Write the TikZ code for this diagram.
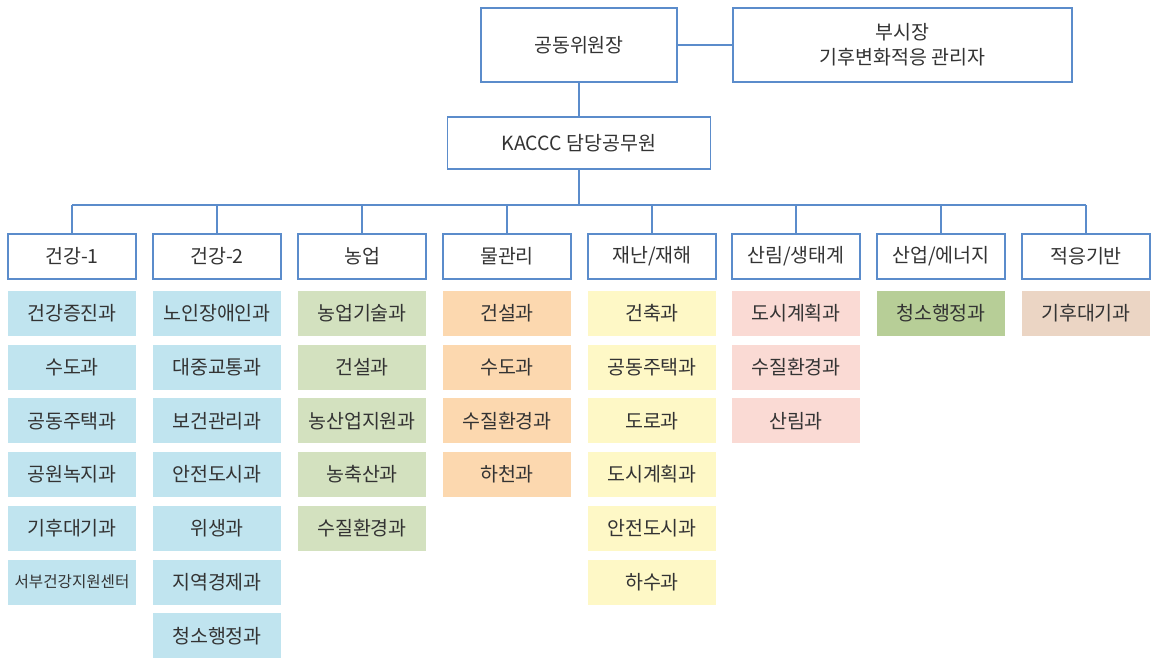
\documentclass[tikz,border=0pt]{standalone}
\usepackage{fontspec}
\setmainfont{Noto Sans CJK KR}
\definecolor{lineblue}{HTML}{5B8CCB}
\definecolor{txt}{HTML}{333333}
\definecolor{cblue}{HTML}{C0E4EF}
\definecolor{cgreen}{HTML}{D3E1BF}
\definecolor{corange}{HTML}{FCD8AF}
\definecolor{cyellow}{HTML}{FEF8C6}
\definecolor{cpink}{HTML}{FADAD4}
\definecolor{cdgreen}{HTML}{B7CE97}
\definecolor{ctan}{HTML}{EBD5C4}
\begin{document}
\begin{tikzpicture}[x=1pt,y=-1pt,
  conn/.style={draw=lineblue, line width=1.5pt},
  box/.style={draw=lineblue, line width=1.5pt, fill=white, inner sep=0pt, text=txt, font=\fontsize{19.5}{25}\selectfont, align=center},
  cat/.style={box, minimum width=128pt, minimum height=45pt},
  dept/.style={inner sep=0pt, minimum width=128pt, minimum height=45pt, text=txt, font=\fontsize{19.5}{23}\selectfont}]
\useasboundingbox (0,0) rectangle (1151,657);

\node[box, minimum width=196pt, minimum height=74pt] (chair) at (579,45) {공동위원장};
\node[box, minimum width=339pt, minimum height=74pt] (vice) at (902.5,45) {부시장\\기후변화적응 관리자};
\node[box, minimum width=263pt, minimum height=52pt] (kaccc) at (579,143) {KACCC 담당공무원};
\coordinate (bus) at (579,205);

\draw[conn] (chair.east) -- (vice.west);
\draw[conn] (chair.south) -- (kaccc.north);
\draw[conn] (kaccc.south) -- (bus);

\foreach \i/\cx/\name in {0/72/{건강-1},1/217/{건강-2},2/362/{농업},3/507/{물관리},4/652/{재난/재해},5/796/{산림/생태계},6/941/{산업/에너지},7/1086/{적응기반}}{
  \node[cat] (c\i) at (\cx,256.5) {\name};
  \draw[conn] (c\i.north) -- (c\i.north |- bus);
}
\draw[conn] (c0.north |- bus) -- (c7.north |- bus);

% column 0
\foreach \k/\name in {0/건강증진과,1/수도과,2/공동주택과,3/공원녹지과,4/기후대기과}{
  \node[dept, fill=cblue] (d0-\k) at (72,{313.5+53.7*\k}) {\name};
}
\node[dept, fill=cblue, font=\fontsize{15.6}{18}\selectfont] (d0-5) at (72,{313.5+53.7*5}) {서부건강지원센터};
% column 1
\foreach \k/\name in {0/노인장애인과,1/대중교통과,2/보건관리과,3/안전도시과,4/위생과,5/지역경제과,6/청소행정과}{
  \node[dept, fill=cblue] (d1-\k) at (217,{313.5+53.7*\k}) {\name};
}
% column 2
\foreach \k/\name in {0/농업기술과,1/건설과,2/농산업지원과,3/농축산과,4/수질환경과}{
  \node[dept, fill=cgreen] (d2-\k) at (362,{313.5+53.7*\k}) {\name};
}
% column 3
\foreach \k/\name in {0/건설과,1/수도과,2/수질환경과,3/하천과}{
  \node[dept, fill=corange] (d3-\k) at (507,{313.5+53.7*\k}) {\name};
}
% column 4
\foreach \k/\name in {0/건축과,1/공동주택과,2/도로과,3/도시계획과,4/안전도시과,5/하수과}{
  \node[dept, fill=cyellow] (d4-\k) at (652,{313.5+53.7*\k}) {\name};
}
% column 5
\foreach \k/\name in {0/도시계획과,1/수질환경과,2/산림과}{
  \node[dept, fill=cpink] (d5-\k) at (796,{313.5+53.7*\k}) {\name};
}
% column 6
\node[dept, fill=cdgreen] (d6-0) at (941,313.5) {청소행정과};
% column 7
\node[dept, fill=ctan] (d7-0) at (1086,313.5) {기후대기과};
\end{tikzpicture}
\end{document}
